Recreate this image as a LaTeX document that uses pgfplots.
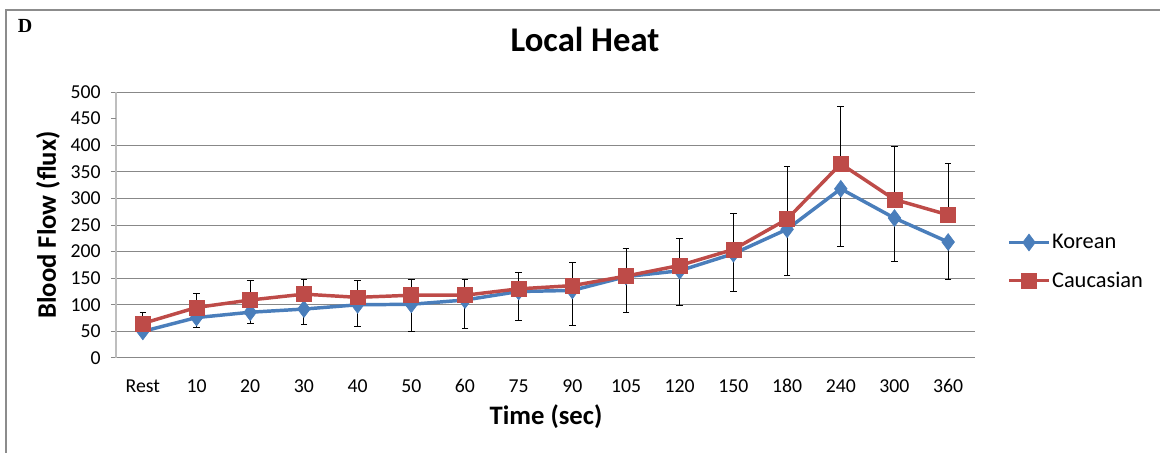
\documentclass[border=0pt]{standalone}
\usepackage{pgfplots}
\pgfplotsset{compat=1.18}
\usepackage{pgfplotstable}
\usepackage{fontspec}
\setmainfont{Carlito}
\newfontfamily\timesfont{Liberation Serif}
\definecolor{kblue}{RGB}{74,126,187}
\definecolor{cred}{RGB}{190,75,72}
\definecolor{gridgray}{RGB}{136,136,136}
\definecolor{axgray}{RGB}{190,190,190}
\definecolor{framegray}{RGB}{140,140,140}
\pgfplotstableread{
idx C Cp K Km
0 65 20 50 8
1 95 27 76 18
2 109 36 86 21
3 120 28 92 29
4 114 32 100 40
5 118 30 101 52
6 118 30 109 53
7 130 31 125 55
8 136 43 127 65
9 154 52 153 68
10 174 50 164 65
11 204 67 196 71
12 261 99 242 87
13 365 108 318 109
14 298 99 263 82
15 269 97 218 70
}\datatable
\begin{document}
\begin{tikzpicture}[x=0.75pt,y=0.75pt]
\useasboundingbox (0,0) rectangle (1160,453);
\draw[framegray, line width=1.5pt] (6,0) -- (6,443) -- (1160,443);
\node[font=\timesfont\bfseries\fontsize{15}{18}\selectfont] at (25,427) {D};
\begin{axis}[
  at={(87pt,71.25pt)}, anchor=south west,
  width=644.25pt, height=199.5pt, scale only axis,
  xmin=-0.5, xmax=15.5, ymin=0, ymax=500,
  xtick={0,...,15},
  xticklabels={Rest,10,20,30,40,50,60,75,90,105,120,150,180,240,300,360},
  ytick={0,50,100,150,200,250,300,350,400,500},
  extra y ticks={450},
  extra y tick style={grid=none},
  ymajorgrids, grid style={gridgray, line width=0.75pt},
  axis x line*=bottom, axis y line*=left,
  x axis line style={gridgray, line width=0.75pt},
  y axis line style={axgray, line width=1pt},
  xtick style={draw=none},
  ytick style={gridgray, line width=0.75pt},
  tick align=outside, major tick length=3.75pt,
  /pgf/number format/assume math mode=true,
  ticklabel style={font=\fontsize{14.8}{17}\selectfont, text=black},
  xticklabel style={anchor=base, yshift=-22.5pt, inner sep=0pt},
  yticklabel style={anchor=east, xshift=-7.5pt, inner sep=0pt},
  title={\textbf{Local Heat}},
  title style={font=\fontsize{26}{30}\selectfont, at={(axis description cs:0.546,1.169)}, anchor=center},
  xlabel={\textbf{Time (sec)}},
  xlabel style={font=\fontsize{20}{24}\selectfont, at={(axis description cs:0.5006,-0.222)}, anchor=center},
  ylabel={\textbf{Blood Flow (flux)}},
  ylabel style={font=\fontsize{20}{24}\selectfont, at={(axis description cs:-0.0792,0.5)}, anchor=center, rotate=0},
  legend style={at={(axis description cs:1.0326,0.481)}, anchor=north west, draw=none, fill=none,
    font=\fontsize{16.8}{20}\selectfont, row sep=14pt, nodes={inner sep=1pt}},
  legend cell align=left,
  legend image code/.code={\draw[mark repeat=2,mark phase=2] plot coordinates {(0pt,0pt) (15pt,0pt) (30pt,0pt)};},
  error bars/error bar style={black, line width=0.75pt},
  error bars/error mark options={rotate=90, mark size=2.5pt, black, line width=0.75pt},
]
\addplot[kblue, line width=2.6pt, mark=diamond*, mark size=6.3pt, mark options={solid, fill=kblue, draw=kblue, line width=0.5pt},
  error bars/.cd, y dir=minus, y explicit]
  table[x=idx, y=K, y error=Km] {\datatable};
\addlegendentry[every mark/.append style={mark size=4.5pt}]{Korean}
\addplot[cred, line width=2.6pt, mark=square*, mark size=5.6pt, mark options={solid, fill=cred, draw=cred, line width=0.5pt},
  error bars/.cd, y dir=plus, y explicit]
  table[x=idx, y=C, y error=Cp] {\datatable};
\addlegendentry{Caucasian}
\end{axis}
\end{tikzpicture}
\end{document}
